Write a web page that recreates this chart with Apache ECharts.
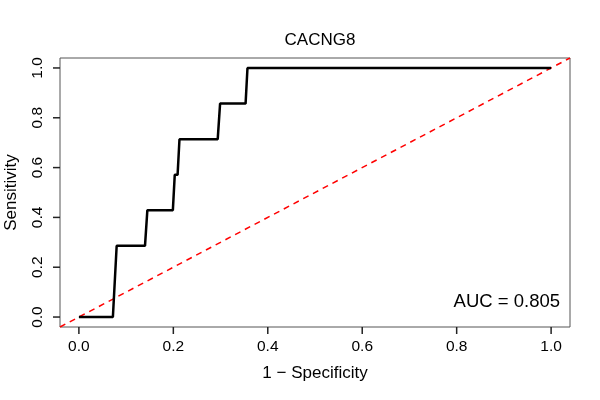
<!DOCTYPE html>
<html>
<head>
<meta charset="utf-8">
<script src="https://cdn.jsdelivr.net/npm/echarts@6/dist/echarts.min.js"></script>
<style>
  html, body { margin: 0; padding: 0; background: #fff; }
  #chart { width: 600px; height: 400px; }
</style>
</head>
<body>
<div id="chart"></div>
<script>
// ROC curve points
const fpr = [0, 0.072, 0.080, 0.140, 0.145, 0.199, 0.203, 0.209, 0.213, 0.294, 0.299, 0.353, 0.357, 1.0];
const tpr = [0, 0, 0.286, 0.286, 0.429, 0.429, 0.571, 0.571, 0.714, 0.714, 0.857, 0.857, 1.0, 1.0];
const tickValues = [0, 0.2, 0.4, 0.6, 0.8, 1.0];
const diagX = [-0.04, 1.04];
const aucText = 'AUC = 0.805';

const chart = echarts.init(document.getElementById('chart'));
const font = 'Liberation Sans, Arial, Helvetica, sans-serif';

// plot box (R draws 4% beyond the data range on each side)
const box = { left: 60, right: 30, top: 58, bottom: 73 };
const pad = 0.04, span = 1 + 2 * pad;
const w = 600 - box.left - box.right, h = 400 - box.top - box.bottom;
const padX = w * pad / span, padY = h * pad / span;
// inner grid covering exactly 0..1, used only for labels
const inner = {
  left: box.left + padX,
  right: box.right + padX,
  top: box.top + padY,
  bottom: box.bottom + padY
};
const tickLen = 7;

function tickAxis(isY) {
  return {
    type: 'value', gridIndex: 1,
    min: 0, max: 1, interval: 0.2,
    offset: isY ? padX : padY,
    axisLine: { show: false, onZero: false },
    axisTick: { show: false },
    axisLabel: {
      formatter: v => v.toFixed(1),
      color: '#000', fontSize: 15.5, fontFamily: font,
      margin: isY ? 14 : 12,
      rotate: isY ? 90 : 0,
      showMinLabel: true, showMaxLabel: true
    },
    splitLine: { show: false }
  };
}

function dataAxis(name, isY) {
  return {
    type: 'value', gridIndex: 0,
    min: -pad, max: 1 + pad,
    name: name,
    nameLocation: 'middle',
    nameGap: isY ? 40 : 38,
    nameTextStyle: { color: '#000', fontSize: 17, fontFamily: font },
    axisLine: { show: false, onZero: false },
    axisTick: { show: false },
    axisLabel: { show: false },
    splitLine: { show: false }
  };
}

// tick marks placed through the data axes' scale, drawn outside the box
function tickSeries(isY) {
  return {
    type: 'custom', xAxisIndex: 0, yAxisIndex: 0,
    clip: false, silent: true, z: 10,
    data: tickValues.map(v => isY ? [-pad, v] : [v, -pad]),
    renderItem: (params, api) => {
      const p = api.coord([api.value(0), api.value(1)]);
      return {
        type: 'line',
        shape: isY
          ? { x1: p[0], y1: p[1], x2: p[0] - tickLen, y2: p[1] }
          : { x1: p[0], y1: p[1], x2: p[0], y2: p[1] + tickLen },
        style: { stroke: '#222', lineWidth: 1.5 }
      };
    }
  };
}

chart.setOption({
  animation: false,
  title: {
    text: 'CACNG8',
    left: 315, top: 27, textAlign: 'center',
    textStyle: { fontSize: 17, fontWeight: 'normal', color: '#000', fontFamily: font }
  },
  grid: [
    Object.assign({ outerBoundsMode: 'none', containLabel: false,
      show: true, borderColor: '#555', borderWidth: 1 }, box),
    Object.assign({ outerBoundsMode: 'none', containLabel: false, show: false }, inner)
  ],
  xAxis: [dataAxis('1 \u2212 Specificity', false), tickAxis(false)],
  yAxis: [dataAxis('Sensitivity', true), tickAxis(true)],
  graphic: [{
    type: 'text', right: 40, top: 292,
    style: { text: aucText, fontSize: 18.5, fill: '#000', fontFamily: font }
  }],
  series: [
    tickSeries(false),
    tickSeries(true),
    {
      type: 'line',
      data: diagX.map(v => [v, v]),
      showSymbol: false,
      lineStyle: { color: '#ff0000', width: 1.5, type: [6, 5] }
    },
    {
      type: 'line',
      data: fpr.map((x, i) => [x, tpr[i]]),
      showSymbol: false,
      lineStyle: { color: '#000', width: 2.5 }
    }
  ]
});
</script>
</body>
</html>
